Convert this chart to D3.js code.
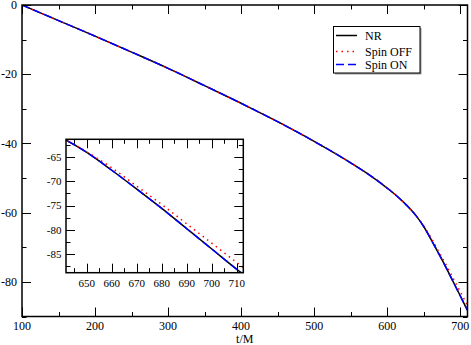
<!DOCTYPE html>
<html>
<head>
<meta charset="utf-8">
<script src="https://cdn.jsdelivr.net/npm/d3@7"></script>
<style>
  body { margin: 0; background: #fff; }
  svg { display: block; }
</style>
</head>
<body>
<div id="chart"></div>
<script>
// data
var tValues = [100, 150, 200, 250, 300, 350, 400, 450, 500, 550, 575, 600, 610, 620, 630, 640, 650, 660, 670, 680, 690, 700, 710, 713];
var nrValues = [0, -4.5, -9.0, -13.6, -18.3, -23.3, -28.4, -33.7, -39.4, -45.6, -49.0, -52.9, -54.6, -56.5, -58.6, -61.0, -64.0, -67.7, -71.6, -75.6, -79.8, -84.0, -88.2, -89.4];
var spinOffValues = [0, -4.5, -9.0, -13.6, -18.3, -23.3, -28.4, -33.7, -39.4, -45.6, -49.0, -52.9, -54.6, -56.5, -58.6, -61.0, -63.9, -67.2, -71.0, -74.8, -78.8, -82.8, -86.8, -88.0];
var spinOnValues = [0, -4.5, -9.0, -13.6, -18.3, -23.3, -28.4, -33.7, -39.4, -45.6, -49.0, -52.9, -54.6, -56.5, -58.6, -61.0, -64.0, -67.7, -71.6, -75.6, -79.8, -84.0, -88.2, -89.4];

var seriesNames = ["NR", "Spin OFF", "Spin ON"];
var seriesColors = ["#000000", "#ff0000", "#0000ff"];
var seriesDash = [null, "1.5,4", "8,4"];
var seriesValues = [nrValues, spinOffValues, spinOnValues];

var mainXTicks = [100, 200, 300, 400, 500, 600, 700];
var mainYTicks = [0, -20, -40, -60, -80];
var insetXTicks = [650, 660, 670, 680, 690, 700, 710];
var insetYTicks = [-65, -70, -75, -80, -85];

var W = 471, H = 345;
var FONT = "Liberation Serif";
var svg = d3.select("#chart").append("svg")
    .attr("width", W).attr("height", H);

var defs = svg.append("defs");

function series(i) {
    return tValues.map(function(t, j) { return [t, seriesValues[i][j]]; });
}

// draws one framed panel with inward ticks on all four sides
function panel(opt) {
    var x = d3.scaleLinear().domain(opt.xDomain).range([opt.left, opt.right]);
    var y = d3.scaleLinear().domain(opt.yDomain).range([opt.bottom, opt.top]);
    var g = svg.append("g");

    g.append("rect")
        .attr("x", opt.left).attr("y", opt.top)
        .attr("width", opt.right - opt.left).attr("height", opt.bottom - opt.top)
        .attr("fill", "#fff");

    defs.append("clipPath").attr("id", opt.id)
        .append("rect")
        .attr("x", opt.left).attr("y", opt.top)
        .attr("width", opt.right - opt.left).attr("height", opt.bottom - opt.top);

    var line = d3.line()
        .x(function(d) { return x(d[0]); })
        .y(function(d) { return y(d[1]); })
        .curve(d3.curveMonotoneX);

    var lines = g.append("g").attr("clip-path", "url(#" + opt.id + ")");
    [0, 1, 2].forEach(function(i) {
        lines.append("path")
            .datum(series(i))
            .attr("d", line)
            .attr("fill", "none")
            .attr("stroke", seriesColors[i])
            .attr("stroke-width", 1.5)
            .attr("stroke-dasharray", seriesDash[i]);
    });

    var major = 9, minor = 4.5;
    var xMinor = d3.range(opt.xDomain[0] - opt.xDomain[0] % opt.xMinorStep, opt.xDomain[1] + 0.001, opt.xMinorStep)
        .filter(function(v) { return v >= opt.xDomain[0] && v <= opt.xDomain[1]; });
    var yMinor = d3.range(Math.ceil(opt.yDomain[0] / opt.yMinorStep) * opt.yMinorStep, opt.yDomain[1] + 0.001, opt.yMinorStep)
        .filter(function(v) { return v >= opt.yDomain[0] && v <= opt.yDomain[1]; });

    var ticks = g.append("g").attr("stroke", "#000").attr("stroke-width", 1);
    xMinor.forEach(function(v) {
        var len = opt.xTicks.indexOf(v) >= 0 ? major : minor;
        var px = Math.round(x(v)) + 0.5;
        ticks.append("line").attr("x1", px).attr("x2", px).attr("y1", opt.bottom).attr("y2", opt.bottom - len);
        ticks.append("line").attr("x1", px).attr("x2", px).attr("y1", opt.top).attr("y2", opt.top + len);
    });
    yMinor.forEach(function(v) {
        var len = opt.yTicks.indexOf(v) >= 0 ? major : minor;
        var py = Math.round(y(v)) + 0.5;
        ticks.append("line").attr("x1", opt.left).attr("x2", opt.left + len).attr("y1", py).attr("y2", py);
        ticks.append("line").attr("x1", opt.right).attr("x2", opt.right - len).attr("y1", py).attr("y2", py);
    });

    g.append("rect")
        .attr("x", opt.left).attr("y", opt.top)
        .attr("width", opt.right - opt.left).attr("height", opt.bottom - opt.top)
        .attr("fill", "none").attr("stroke", "#000").attr("stroke-width", 1.5);

    g.selectAll(".xl").data(opt.xTicks).enter().append("text")
        .attr("x", function(d) { return x(d); })
        .attr("y", opt.bottom + opt.xLabelOffset)
        .attr("text-anchor", "middle")
        .attr("font-family", FONT)
        .attr("font-size", opt.fontSize)
        .text(function(d) { return d; });

    g.selectAll(".yl").data(opt.yTicks).enter().append("text")
        .attr("x", opt.left - opt.yLabelOffset)
        .attr("y", function(d) { return y(d); })
        .attr("dy", "0.35em")
        .attr("text-anchor", "end")
        .attr("font-family", FONT)
        .attr("font-size", opt.fontSize)
        .text(function(d) { return d; });

    return { x: x, y: y, g: g };
}

var main = panel({
    id: "clipMain",
    left: 22, right: 467.5, top: 5, bottom: 316.5,
    xDomain: [100, 710], yDomain: [-90, 0],
    xTicks: mainXTicks, yTicks: mainYTicks,
    xMinorStep: 50, yMinorStep: 10,
    xLabelOffset: 13.5, yLabelOffset: 5, fontSize: 12
});

svg.append("text")
    .attr("x", (22 + 467.5) / 2)
    .attr("y", 343)
    .attr("text-anchor", "middle")
    .attr("font-family", FONT)
    .attr("font-size", 12)
    .text("t/M");

// legend
var leg = svg.append("g");
leg.append("rect").attr("x", 335).attr("y", 28).attr("width", 86.5).attr("height", 46.5).attr("fill", "#999");
leg.append("rect").attr("x", 333.5).attr("y", 26.5).attr("width", 86.5).attr("height", 46.5)
    .attr("fill", "#fff").attr("stroke", "#000").attr("stroke-width", 1);
var legY = [35.5, 51.5, 64.5];
seriesNames.forEach(function(name, i) {
    leg.append("line")
        .attr("x1", 336).attr("x2", 357)
        .attr("y1", legY[i]).attr("y2", legY[i])
        .attr("stroke", seriesColors[i]).attr("stroke-width", 1.5)
        .attr("stroke-dasharray", seriesDash[i]);
    leg.append("text")
        .attr("x", 365).attr("y", legY[i] + 4)
        .attr("font-family", FONT)
        .attr("font-size", 12)
        .text(name);
});

// inset
panel({
    id: "clipInset",
    left: 66, right: 243.3, top: 139.3, bottom: 272.7,
    xDomain: [641.7, 712.6], yDomain: [-88.9, -61.3],
    xTicks: insetXTicks, yTicks: insetYTicks,
    xMinorStep: 5, yMinorStep: 2.5,
    xLabelOffset: 14, yLabelOffset: 4.5, fontSize: 11
});
</script>
</body>
</html>
